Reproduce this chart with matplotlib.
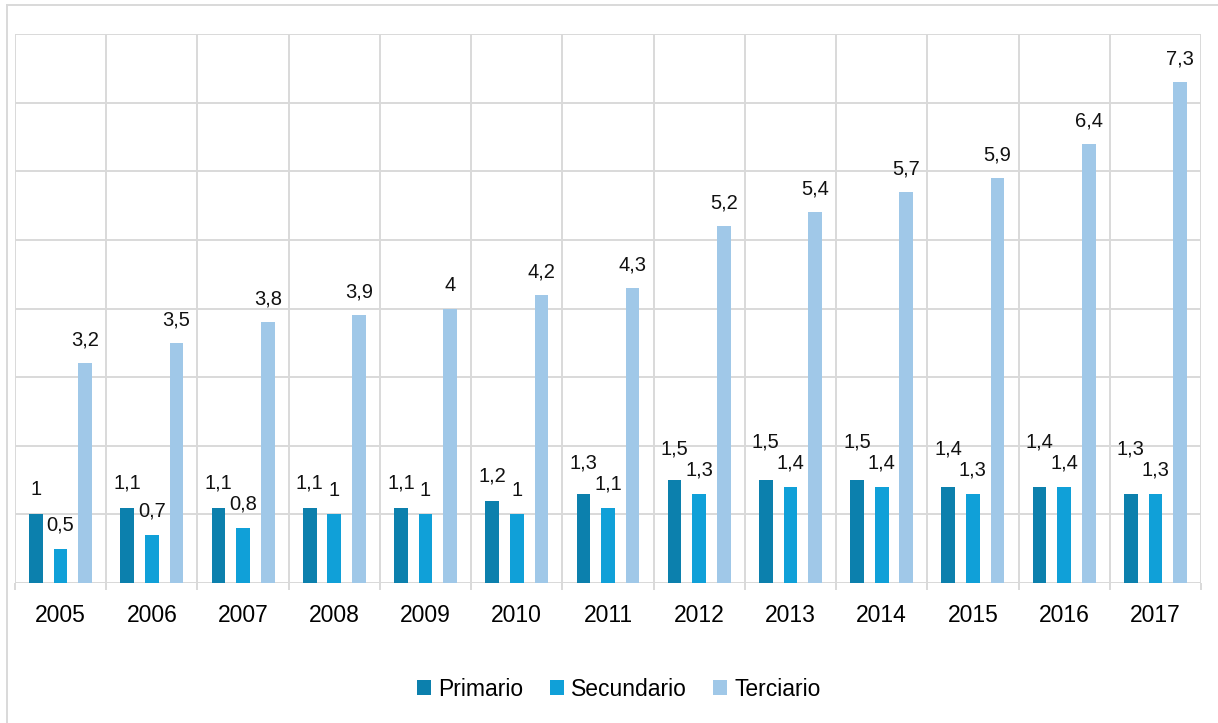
import matplotlib
matplotlib.use("Agg")
import matplotlib.pyplot as plt
from matplotlib.patches import Patch
from matplotlib.lines import Line2D
import numpy as np

plt.rcParams['font.family'] = ['Liberation Sans', 'DejaVu Sans']

# datos del gráfico
years = ['2005', '2006', '2007', '2008', '2009', '2010', '2011',
         '2012', '2013', '2014', '2015', '2016', '2017']
primario = [1, 1.1, 1.1, 1.1, 1.1, 1.2, 1.3, 1.5, 1.5, 1.5, 1.4, 1.4, 1.3]
secundario = [0.5, 0.7, 0.8, 1, 1, 1, 1.1, 1.3, 1.4, 1.4, 1.3, 1.4, 1.3]
terciario = [3.2, 3.5, 3.8, 3.9, 4, 4.2, 4.3, 5.2, 5.4, 5.7, 5.9, 6.4, 7.3]
series_names = ['Primario', 'Secundario', 'Terciario']
colors = ['#0c80ad', '#10a0d8', '#a0c8e8']
grid_c = '#d9d9d9'


def fmt(v):
    # coma decimal
    return ('%g' % v).replace('.', ',')


fig = plt.figure(figsize=(12.18, 7.23), dpi=100)
ax = fig.add_axes([15 / 1218, 1 - 583 / 723, 1186 / 1218, 549 / 723])

x = np.arange(len(years))
w = 0.15
step = 0.27
all_series = [primario, secundario, terciario]
for i, (vals, c) in enumerate(zip(all_series, colors)):
    ax.bar(x + (i - 1) * step, vals, width=w, color=c, zorder=3)

ax.set_xlim(-0.5, len(years) - 0.5)
ax.set_ylim(0, 8)

# rejilla
ax.set_yticks(np.arange(0, 9, 1))
ax.set_xticks(x)
ax.set_xticks(np.arange(-0.5, len(years), 1), minor=True)
ax.grid(True, axis='y', which='major', color=grid_c, linewidth=1.4, zorder=0)
ax.grid(True, axis='x', which='minor', color=grid_c, linewidth=1.4, zorder=0)
ax.grid(False, axis='x', which='major')
for s in ax.spines.values():
    s.set_visible(False)
ax.axhline(0, color=grid_c, linewidth=1.4, zorder=1)
ax.tick_params(axis='y', left=False, labelleft=False)
ax.tick_params(axis='x', which='major', length=0, pad=15, labelsize=16.5)
ax.tick_params(axis='x', which='minor', length=5, width=1.4, color=grid_c, direction='out')
ax.set_xticklabels(years)

# etiquetas de datos
ppu = ax.transData.transform((0, 1))[1] - ax.transData.transform((0, 0))[1]
for i in range(len(years)):
    p, s, t = primario[i], secundario[i], terciario[i]
    off_p = 25
    if s != int(s):
        off_p = max(25, 45 - (p - s) * ppu)
    for val, dx, off in [(p, -step, off_p), (s, 0, 24), (t, step, 23)]:
        ax.annotate(fmt(val), (i + dx, val), xytext=(0, off),
                    textcoords='offset pixels', ha='center', va='center',
                    fontsize=14.5, color='#111111')

handles = [Patch(facecolor=c, edgecolor='none') for c in colors]
fig.legend(handles, series_names, loc='center', bbox_to_anchor=(0.508, 1 - 689 / 723),
           ncol=3, frameon=False, fontsize=16.5, handlelength=0.62, handleheight=0.62,
           handletextpad=0.3, columnspacing=1.15)

# borde del gráfico
fig.add_artist(Line2D([6.7 / 1218, 6.7 / 1218], [0, 1 - 4.7 / 723],
                      transform=fig.transFigure, color=grid_c, linewidth=1.4))
fig.add_artist(Line2D([6.7 / 1218, 1], [1 - 4.7 / 723, 1 - 4.7 / 723],
                      transform=fig.transFigure, color=grid_c, linewidth=1.4))

fig.savefig('out.png', dpi=100)
